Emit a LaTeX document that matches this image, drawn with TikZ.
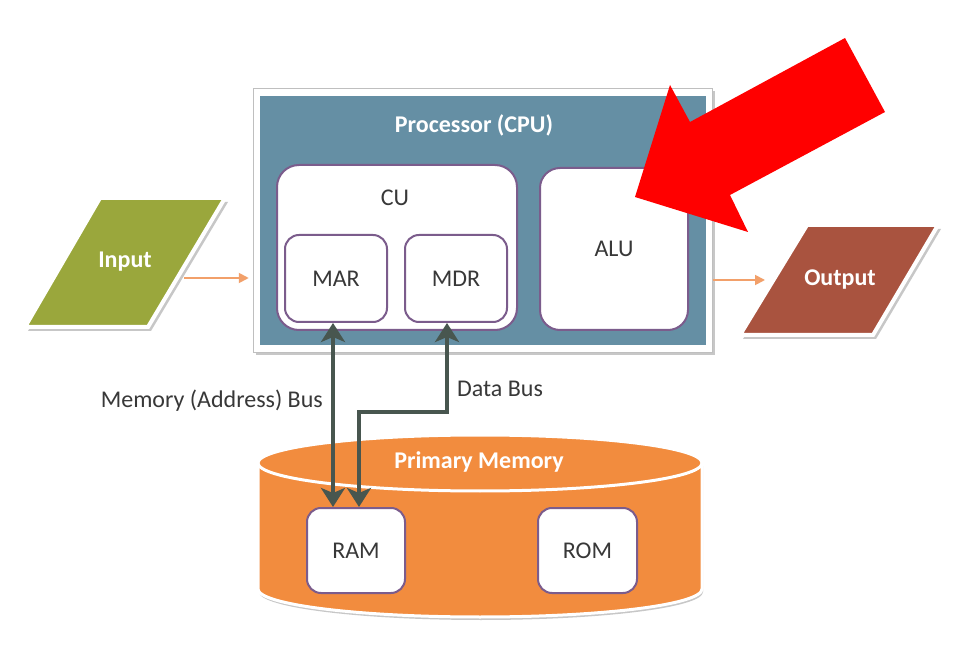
\documentclass[tikz,border=0pt]{standalone}
\usepackage{fontspec}
\setmainfont{Carlito}
\usetikzlibrary{arrows.meta,calc}
\definecolor{cpublue}{HTML}{658FA4}
\definecolor{boxpurple}{HTML}{7B5C8C}
\definecolor{ingreen}{HTML}{9AA73C}
\definecolor{outbrown}{HTML}{A9533F}
\definecolor{memorange}{HTML}{F28C3E}
\definecolor{busgray}{HTML}{48564F}
\definecolor{textgray}{HTML}{383838}
\definecolor{flowor}{HTML}{F2A06A}
\tikzset{bustip/.tip={Stealth[length=19pt,width=24pt,inset=5pt]}}
\begin{document}
\begin{tikzpicture}[x=1pt,y=-1pt,
  txt/.style={font=\fontsize{24}{28}\selectfont, text=textgray, inner sep=0pt},
  btxt/.style={font=\fontsize{24}{28}\selectfont\bfseries, text=white, inner sep=0pt},
  inbox/.style={draw=boxpurple, line width=2pt, fill=white, rounded corners=14pt, inner sep=0pt, txt},
  shadowc/.style={fill=black!22},
  bus/.style={draw=busgray, line width=4pt, bustip-bustip},
  flow/.style={draw=flowor, line width=1.8pt, -{Triangle[length=10pt,width=10pt]}}
]
\useasboundingbox (0,0) rectangle (970,652);
\fill[white] (0,0) rectangle (970,652);

% ---------- CPU ----------
\fill[shadowc] (256,91) rectangle (715,355);
\node[fill=white, draw=black!25, line width=0.5pt, minimum width=459pt, minimum height=264pt, inner sep=0pt] (cpu) at (482.5,220) {};
\fill[cpublue] (260,96) rectangle (706,345);
\node[btxt] (cputxt) at (474,125) {Processor (CPU)};

\node[inbox, rounded corners=22pt, minimum width=240pt, minimum height=165pt] (cu) at (397,247.5) {};
\node[txt] (cutxt) at (395,198) {CU};
\node[inbox, minimum width=102pt, minimum height=87pt] (mar) at (336,278.5) {MAR};
\node[inbox, minimum width=102pt, minimum height=87pt] (mdr) at (456,278.5) {MDR};
\node[inbox, rounded corners=20pt, minimum width=148pt, minimum height=162pt] (alu) at (614,249) {ALU};

% ---------- Input / Output ----------
\fill[shadowc] (103,202) -- (228,202) -- (151,331) -- (28,331) -- cycle;
\path[fill=ingreen, draw=white, line width=4pt, line join=miter] (100,198) -- (225,198) -- (148,327) -- (25,327) -- cycle;
\node[btxt] (input) at (125,262) {Input};

\fill[shadowc] (810,229) -- (941,229) -- (876,339) -- (743,339) -- cycle;
\path[fill=outbrown, draw=white, line width=4pt, line join=miter] (807,225) -- (938,225) -- (873,335) -- (740,335) -- cycle;
\node[btxt] (output) at (840,280) {Output};

\coordinate (inR) at (184,278);
\draw[flow, shorten >=4pt] (inR) -- (inR -| cpu.west);
\coordinate (outL) at (765,280);
\draw[flow, shorten <=1pt] (cpu.east |- outL) -- (outL);

% ---------- Primary memory ----------
\fill[shadowc] (259,466) -- (259,592) .. controls (259,607.5) and (359.4,620) .. (481,620) .. controls (602.6,620) and (703,607.5) .. (703,592) -- (703,466) -- cycle;
\path[fill=memorange, draw=white, line width=3pt] (258,463) -- (258,589) .. controls (258,604.5) and (357.4,617) .. (480,617) .. controls (602.6,617) and (702,604.5) .. (702,589) -- (702,463) -- cycle;
\path[fill=memorange, draw=white, line width=3pt] (480,463) ellipse [x radius=222pt, y radius=28pt];
\node[btxt] (mem) at (479,462) {Primary Memory};

\node[inbox, minimum width=98pt, minimum height=85pt] (ram) at (356,550.5) {RAM};
\node[inbox, minimum width=99pt, minimum height=85pt] (rom) at (587.5,550.5) {ROM};

% ---------- Buses ----------
\draw[bus] ($(mar.south)+(-3,0)$) -- ($(mar.south |- ram.north)+(-3,0)$);
\draw[bus] ($(mdr.south)+(-9,0)$) |- ($(ram.north)+(3,-95)$) -- ($(ram.north)+(3,0)$);
\node[txt, anchor=east] (abus) at (323,401) {Memory (Address) Bus};
\node[txt, anchor=west] (dbus) at (457,389) {Data Bus};

% ---------- Red arrow ----------
\fill[red] (635,197) -- (670,85) -- (690,122) -- (845,38) -- (885,112) -- (730,195) -- (748,232) -- cycle;
\end{tikzpicture}
\end{document}
